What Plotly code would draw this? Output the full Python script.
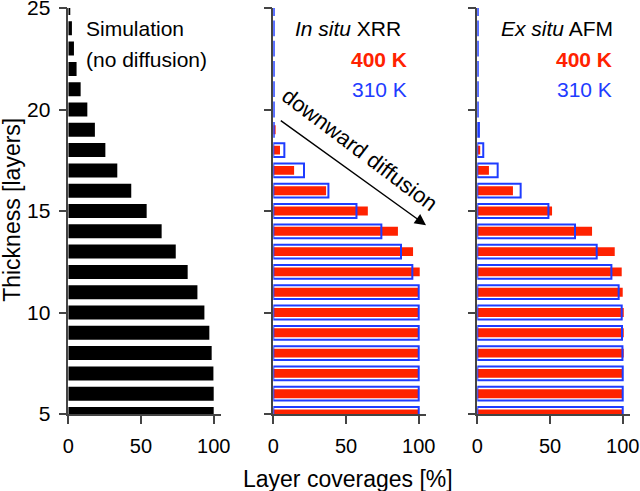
import plotly.graph_objects as go

# ---- data ----
layers = list(range(5, 26))  # thickness in layers, 5..25

sim_no_diffusion = [100, 100, 99.8, 98.6, 97, 93.6, 88.8, 82.1, 73.9, 64.2, 53.9,
                    43.3, 33.7, 25.5, 18.3, 13.1, 8.5, 5.7, 3.9, 2.5, 1.1]

xrr_400K = [100, 100, 100, 100, 100, 100, 100, 100.7, 96.1, 85.7, 65,
            36.3, 14.3, 4.6, 1.6, 0, 0, 0, 0, 0, 0]
xrr_310K = [100, 100, 100, 100, 100, 100, 100, 95.6, 87.8, 74.3, 57.2,
            37.9, 21.1, 7.6, 0.3, 0.3, 0.3, 0.3, 0.3, 0.3, 0.3]

afm_400K = [100, 100, 100, 100.7, 100.7, 100.7, 100, 99.3, 94.5, 78.9, 51.4,
            24.5, 8, 2, 0, 0, 0, 0, 0, 0, 0]
afm_310K = [100, 100, 100, 99.8, 99.5, 99.3, 97.2, 92.2, 82.1, 67.2, 48.9,
            29.8, 14, 4.1, 1.1, 0.3, 0.3, 0.3, 0.3, 0.3, 0.3]

x_ticks = [0, 50, 100]
y_ticks = [5, 10, 15, 20, 25]

RED = "rgb(255,34,0)"
BLUE = "rgb(30,60,255)"
AX = "#444444"
FONT = "Liberation Sans, Arial, Helvetica, sans-serif"

fig = go.Figure()

fig.add_trace(go.Bar(y=layers, x=sim_no_diffusion, orientation="h", width=0.69,
                     marker=dict(color="black", line=dict(width=0)),
                     xaxis="x", yaxis="y", showlegend=False))

for xs, red, blue in [("x2", xrr_400K, xrr_310K), ("x3", afm_400K, afm_310K)]:
    ya = "y" + xs[1:]
    fig.add_trace(go.Bar(y=layers, x=red, orientation="h", width=0.44,
                         marker=dict(color=RED, line=dict(width=0)),
                         xaxis=xs, yaxis=ya, showlegend=False))
    fig.add_trace(go.Bar(y=layers, x=blue, orientation="h", width=0.68,
                         marker=dict(color="rgba(0,0,0,0)", line=dict(color=BLUE, width=2)),
                         xaxis=xs, yaxis=ya, showlegend=False))

domains = [[0.0005, 0.2722], [0.3653, 0.6370], [0.7283, 1.0]]
common_x = dict(range=[0, 105], tickvals=x_ticks, ticks="outside", ticklen=8, tickwidth=1.5,
                tickcolor=AX, showline=True, linecolor=AX, linewidth=1.5, showgrid=False,
                zeroline=False, ticklabelstandoff=5, ticklabeloverflow="allow", automargin=False,
                tickfont=dict(size=20, color="black", family=FONT))
common_y = dict(range=[5, 25], tickvals=y_ticks, ticks="outside", ticklen=8, tickwidth=1.5,
                tickcolor=AX, showline=True, linecolor=AX, linewidth=1.5, showgrid=False,
                zeroline=False, ticklabelstandoff=4, ticklabeloverflow="allow", automargin=False,
                tickfont=dict(size=21, color="black", family=FONT))

layout = dict(
    width=640, height=491,
    margin=dict(l=68, r=10, t=8, b=77, autoexpand=False),
    plot_bgcolor="white", paper_bgcolor="white",
    barmode="overlay",
    font=dict(family=FONT, color="black"),
)
for i, dom in enumerate(domains, start=1):
    sx = "" if i == 1 else str(i)
    layout["xaxis" + sx] = dict(common_x, domain=dom, anchor="y" + sx)
    layout["yaxis" + sx] = dict(common_y, domain=[0, 1], anchor="x" + sx,
                                showticklabels=(i == 1))
fig.update_layout(**layout)

ann = []
fs = 21
# panel 1
ann.append(dict(text="Simulation", x=10.5, y=24.01, xref="x", yref="y", xanchor="left",
                yanchor="middle", showarrow=False, font=dict(size=fs)))
ann.append(dict(text="(no diffusion)", x=10.5, y=22.48, xref="x", yref="y", xanchor="left",
                yanchor="middle", showarrow=False, font=dict(size=fs)))
# panel 2
ann.append(dict(text="<i>In situ</i> XRR", x=89, y=24.01, xref="x2", yref="y2", xanchor="right",
                yanchor="middle", showarrow=False, font=dict(size=fs)))
ann.append(dict(text="<b>400 K</b>", x=93.5, y=22.46, xref="x2", yref="y2", xanchor="right",
                yanchor="middle", showarrow=False, font=dict(size=fs, color=RED)))
ann.append(dict(text="310 K", x=93.2, y=20.98, xref="x2", yref="y2", xanchor="right",
                yanchor="middle", showarrow=False, font=dict(size=fs, color=BLUE)))
# panel 3
ann.append(dict(text="<i>Ex situ</i> AFM", x=94.5, y=24.01, xref="x3", yref="y3", xanchor="right",
                yanchor="middle", showarrow=False, font=dict(size=fs)))
ann.append(dict(text="<b>400 K</b>", x=94.2, y=22.46, xref="x3", yref="y3", xanchor="right",
                yanchor="middle", showarrow=False, font=dict(size=fs, color=RED)))
ann.append(dict(text="310 K", x=93.8, y=20.98, xref="x3", yref="y3", xanchor="right",
                yanchor="middle", showarrow=False, font=dict(size=fs, color=BLUE)))
# diffusion arrow and text
ann.append(dict(text="", x=0.637, y=0.465, xref="paper", yref="paper", showarrow=True,
                ax=-146.7, ay=-105.7, axref="pixel", ayref="pixel", arrowhead=2,
                arrowsize=1.6, arrowwidth=1.4, arrowcolor="black", standoff=0))
ann.append(dict(text="downward diffusion", x=0.519, y=0.652, xref="paper", yref="paper",
                textangle=37, showarrow=False, font=dict(size=22)))
# axis titles
ann.append(dict(text="Layer coverages [%]", x=0.499, y=-0.159, xref="paper", yref="paper",
                xanchor="center", yanchor="middle", showarrow=False, font=dict(size=23)))
ann.append(dict(text="Thickness [layers]", x=-0.0985, y=0.502, xref="paper", yref="paper",
                xanchor="center", yanchor="middle", textangle=-90, showarrow=False,
                font=dict(size=23)))
fig.update_layout(annotations=ann)

fig.write_html("out.html", config={"displayModeBar": False},
               post_script="document.body.style.margin='0px';document.body.style.overflow='hidden';")
